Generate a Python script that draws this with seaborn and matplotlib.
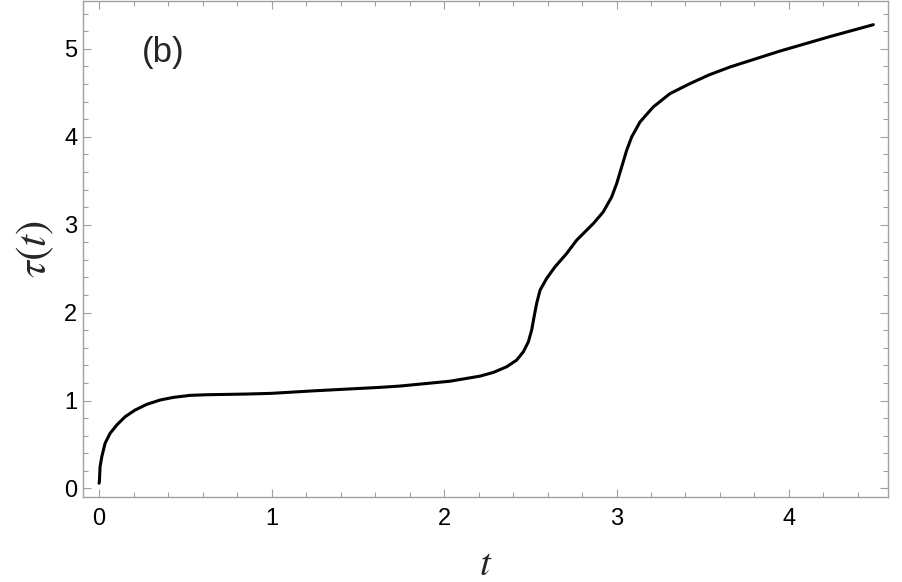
#!/usr/bin/env python3
"""Recreate the tau(t) curve, panel (b)."""

import pandas as pd
import seaborn as sns
import matplotlib.pyplot as plt
from matplotlib.ticker import MultipleLocator

# values
t_vals = [0.0, 0.002, 0.006, 0.016, 0.035, 0.064, 0.103, 0.151, 0.209,
          0.277, 0.354, 0.431, 0.528, 0.624, 0.856, 1.0, 1.24, 1.63, 1.745,
          2.035, 2.209, 2.286, 2.363, 2.421, 2.460, 2.489, 2.508, 2.522,
          2.537, 2.557, 2.595, 2.643, 2.71, 2.769, 2.866, 2.923, 2.972,
          3.001, 3.030, 3.059, 3.088, 3.136, 3.213, 3.310, 3.426, 3.538,
          3.66, 3.948, 4.238, 4.489]
tau_vals = [0.06, 0.077, 0.248, 0.361, 0.514, 0.627, 0.722, 0.816, 0.892,
            0.957, 1.006, 1.036, 1.059, 1.066, 1.074, 1.082, 1.11, 1.15,
            1.165, 1.22, 1.278, 1.320, 1.384, 1.460, 1.555, 1.668, 1.801,
            1.952, 2.105, 2.256, 2.389, 2.520, 2.67, 2.824, 3.014, 3.145,
            3.316, 3.468, 3.657, 3.847, 3.998, 4.168, 4.339, 4.491, 4.605,
            4.705, 4.795, 4.975, 5.14, 5.275]

x_ticks = [0, 1, 2, 3, 4]
y_ticks = [0, 1, 2, 3, 4, 5]
panel_label = '(b)'

sns.set_style('ticks')
plt.rcParams['font.family'] = ['Liberation Sans', 'DejaVu Sans']
plt.rcParams['mathtext.fontset'] = 'stix'

df = pd.DataFrame({'t': t_vals, 'tau': tau_vals})

fig = plt.figure(figsize=(9.03, 5.82), dpi=100)
ax = fig.add_axes([83 / 903, 85 / 582, 805 / 903, 496.5 / 582])

sns.lineplot(data=df, x='t', y='tau', ax=ax, color='black', linewidth=2.2,
             sort=False, estimator=None)

ax.set_xlim(-0.093, 4.574)
ax.set_ylim(-0.097, 5.55)
ax.set_xticks(x_ticks)
ax.set_yticks(y_ticks)
ax.xaxis.set_minor_locator(MultipleLocator(0.2))
ax.yaxis.set_minor_locator(MultipleLocator(0.2))

frame_col = '#a0a0a0'
for sp in ax.spines.values():
    sp.set_color(frame_col)
    sp.set_linewidth(1.0)
ax.tick_params(which='both', direction='in', top=True, right=True,
               color=frame_col, width=0.8, labelsize=17, labelcolor='black')
ax.tick_params(which='major', length=6)
ax.tick_params(which='minor', length=3.5)
ax.tick_params(axis='x', which='major', pad=8)
ax.tick_params(axis='y', which='major', pad=4)

ax.set_xlabel(r'$t$', fontsize=28, labelpad=12)
ax.set_ylabel(r'$\tau(t)$', fontsize=31, labelpad=6)

ax.text(0.099, 0.895, panel_label, transform=ax.transAxes, fontsize=25,
        ha='center', va='center')

fig.savefig('out.png', dpi=100)
plt.close(fig)
